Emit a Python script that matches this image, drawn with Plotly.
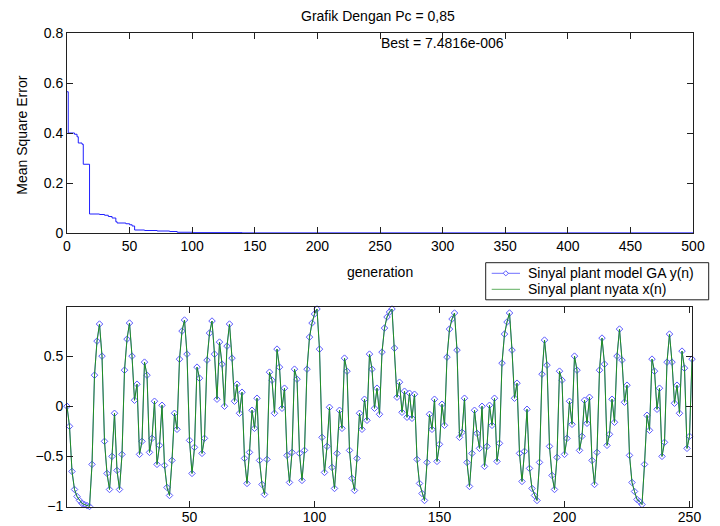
import plotly.graph_objects as go

# ---- Top plot: MSE vs generation (step curve breakpoints) ----
gen_break = [0, 1, 6, 8, 9, 12, 13, 18, 26, 30, 33, 36, 39, 40, 47, 50, 52, 54, 62, 72, 82, 88, 100, 140, 500]
mse_break = [0.565, 0.400, 0.395, 0.385, 0.360, 0.355, 0.275, 0.076, 0.074, 0.071, 0.066, 0.060, 0.045,
             0.040, 0.037, 0.033, 0.028, 0.012, 0.010, 0.008, 0.006, 0.003, 0.0015, 0.0005, 0.0000075]
best_text = "Best = 7.4816e-006"
title_text = "Grafik Dengan Pc = 0,85"

# ---- Bottom plot: signals ----
sinyal_nyata = [
    0.00, -0.20, -0.65, -0.83, -0.90, -0.94, -0.97, -0.98, -0.99, -1.00,
    -0.58, 0.31, 0.65, 0.82, 0.50, -0.35, -0.67, -0.83, -0.50, -0.07,
    -0.64, -0.83, -0.48, 0.36, 0.67, 0.83, 0.50, 0.06, 0.22, -0.48,
    -0.35, 0.44, 0.31, -0.46, -0.32, 0.05, -0.58, -0.39, 0.01, -0.59,
    -0.81, -0.89, -0.54, -0.07, -0.23, 0.47, 0.75, 0.86, 0.52, -0.34,
    -0.67, -0.41, 0.39, 0.28, -0.47, -0.32, 0.46, 0.73, 0.85, 0.52,
    0.07, 0.64, 0.42, 0.00, 0.60, 0.82, 0.48, 0.05, 0.22, -0.07,
    0.14, -0.52, -0.77, -0.46, -0.04, -0.22, 0.08, -0.54, -0.78, -0.88,
    -0.53, 0.34, 0.26, -0.07, 0.57, 0.39, -0.02, 0.18, -0.49, -0.76,
    -0.46, 0.37, 0.27, -0.47, -0.74, -0.44, 0.37, 0.69, 0.83, 0.92,
    0.97, 0.57, -0.31, -0.66, -0.40, -0.01, -0.61, -0.82, -0.47, -0.04,
    -0.22, 0.48, 0.35, -0.44, -0.72, -0.84, -0.52, -0.07, -0.23, 0.07,
    -0.14, 0.52, 0.37, -0.02, 0.18, -0.08, 0.54, 0.78, 0.89, 0.94,
    0.97, 0.58, 0.09, 0.24, -0.06, 0.15, -0.11, 0.13, -0.12, 0.12,
    -0.53, -0.77, -0.87, -0.94, -0.56, -0.08, -0.23, 0.07, -0.55, -0.38,
    0.02, -0.19, 0.49, 0.77, 0.87, 0.93, 0.56, -0.31, -0.26, 0.08,
    -0.56, -0.80, -0.47, -0.04, -0.27, -0.42, 0.00, -0.60, -0.40, 0.01,
    -0.19, 0.08, -0.55, -0.37, 0.43, 0.72, 0.84, 0.93, 0.56, 0.08,
    0.23, -0.47, -0.75, -0.45, -0.03, -0.62, -0.82, -0.89, -0.94, -0.56,
    0.32, 0.66, 0.41, -0.40, -0.69, -0.83, -0.51, 0.35, 0.26, -0.48,
    -0.32, 0.05, -0.18, 0.50, 0.36, -0.44, -0.30, 0.06, -0.17, 0.09,
    -0.54, -0.78, -0.46, 0.36, 0.68, 0.42, -0.39, -0.28, 0.07, -0.16,
    0.50, 0.77, 0.46, 0.04, 0.21, -0.49, -0.76, -0.85, -0.93, -0.95,
    -0.98, -0.58, -0.09, -0.24, 0.47, 0.35, -0.03, 0.18, -0.50, -0.36,
    0.44, 0.72, 0.44, 0.03, 0.21, -0.07, 0.55, 0.38, -0.42, -0.30,
    0.47,
]
sinyal_model = list(sinyal_nyata)
n_index = list(range(1, len(sinyal_nyata) + 1))
name_model = "Sinyal plant model GA y(n)"
name_nyata = "Sinyal plant nyata x(n)"

FONT = "Liberation Sans, Arial, sans-serif"
AX = "#202020"
BLUE_LINE = "#7070ff"
BLUE_MK = "#5a5aff"
GREEN = "#1f8f1f"

fig = go.Figure()

fig.add_trace(go.Scatter(
    x=gen_break, y=mse_break, mode="lines", line=dict(color="#2020ff", width=1, shape="hv"),
    showlegend=False, xaxis="x", yaxis="y"))

fig.add_trace(go.Scatter(
    x=n_index, y=sinyal_model, mode="lines+markers", name=name_model,
    line=dict(color=BLUE_LINE, width=1),
    marker=dict(symbol="diamond-open", size=5, color=BLUE_MK, line=dict(width=1)),
    cliponaxis=False, showlegend=False, xaxis="x2", yaxis="y2"))

fig.add_trace(go.Scatter(
    x=n_index, y=sinyal_nyata, mode="lines", name=name_nyata,
    line=dict(color=GREEN, width=1),
    cliponaxis=False, showlegend=False, xaxis="x2", yaxis="y2"))

axis_common = dict(showline=True, linecolor=AX, linewidth=1, mirror="ticks", ticks="inside",
                   ticklen=6, tickcolor=AX, showgrid=False, zeroline=False,
                   tickfont=dict(family=FONT, size=14, color="black"))

# ---- Legend box (drawn manually to match compact MATLAB legend) ----
W, H, L, T = 626.0, 475.0, 67.0, 33.0
def px(x):
    return (x - L) / W
def py(y):
    return (T + H - y) / H

leg_x0, leg_x1, leg_y0, leg_y1 = 485.7, 708.7, 262.7, 299.8
row1, row2 = 273.3, 289.3
line_a, line_b, mk_x, text_x = 491.7, 520.0, 505.8, 526.0
dx, dy = 2.6 / W, 2.6 / H

shapes = [
    dict(type="rect", xref="paper", yref="paper", x0=px(leg_x0), x1=px(leg_x1), y0=py(leg_y1), y1=py(leg_y0),
         line=dict(color=AX, width=1), fillcolor="white", layer="above"),
    dict(type="line", xref="paper", yref="paper", x0=px(line_a), x1=px(line_b), y0=py(row1), y1=py(row1),
         line=dict(color=BLUE_LINE, width=1), layer="above"),
    dict(type="path", xref="paper", yref="paper", layer="above",
         path=f"M {px(mk_x)-dx},{py(row1)} L {px(mk_x)},{py(row1)+dy} L {px(mk_x)+dx},{py(row1)} L {px(mk_x)},{py(row1)-dy} Z",
         line=dict(color=BLUE_MK, width=1), fillcolor="white"),
    dict(type="line", xref="paper", yref="paper", x0=px(line_a), x1=px(line_b), y0=py(row2), y1=py(row2),
         line=dict(color="#5fb05f", width=1), layer="above"),
]

annotations = [
    dict(text=title_text, xref="paper", yref="paper", x=px(378), y=py(15.5), showarrow=False,
         xanchor="center", yanchor="middle", font=dict(family=FONT, size=14)),
    dict(text=best_text, xref="x", yref="y", x=249.5, y=0.759, showarrow=False,
         xanchor="left", yanchor="middle", font=dict(family=FONT, size=14)),
    dict(text="Mean Square Error", xref="paper", yref="paper", x=px(21.7), y=py(135), showarrow=False,
         textangle=-90, xanchor="center", yanchor="middle", font=dict(family=FONT, size=14)),
    dict(text="generation", xref="paper", yref="paper", x=0.5, y=py(271.5), showarrow=False,
         xanchor="center", yanchor="middle", font=dict(family=FONT, size=14)),
    dict(text=name_model, xref="paper", yref="paper", x=px(text_x), y=py(row1), showarrow=False,
         xanchor="left", yanchor="middle", font=dict(family=FONT, size=14)),
    dict(text=name_nyata, xref="paper", yref="paper", x=px(text_x), y=py(row2), showarrow=False,
         xanchor="left", yanchor="middle", font=dict(family=FONT, size=14)),
]

fig.update_layout(
    width=720, height=526,
    margin=dict(l=67, r=27, t=33, b=18, autoexpand=False),
    paper_bgcolor="white", plot_bgcolor="white",
    showlegend=False,
    xaxis=dict(domain=[0, 1], range=[0, 500], tickvals=list(range(0, 501, 50)), anchor="y", **axis_common),
    yaxis=dict(domain=[py(233), 1], range=[0, 0.8], tickvals=[0, 0.2, 0.4, 0.6, 0.8], anchor="x", **axis_common),
    xaxis2=dict(domain=[0, px(692)], range=[1, 251], tickvals=[50, 100, 150, 200, 250], anchor="y2",
                ticklabelstandoff=-2, **axis_common),
    yaxis2=dict(domain=[py(506.5), py(307)], range=[-1.0, 0.99], tickvals=[-1, -0.5, 0, 0.5], anchor="x2", **axis_common),
    font=dict(family=FONT, size=14, color="black"),
    shapes=shapes,
    annotations=annotations,
)

fig.write_html(
    "out.html",
    config={"displayModeBar": False},
    post_script="document.body.style.margin='0px';document.body.style.padding='0px';"
                "document.documentElement.style.overflow='hidden';document.body.style.overflow='hidden';",
)
